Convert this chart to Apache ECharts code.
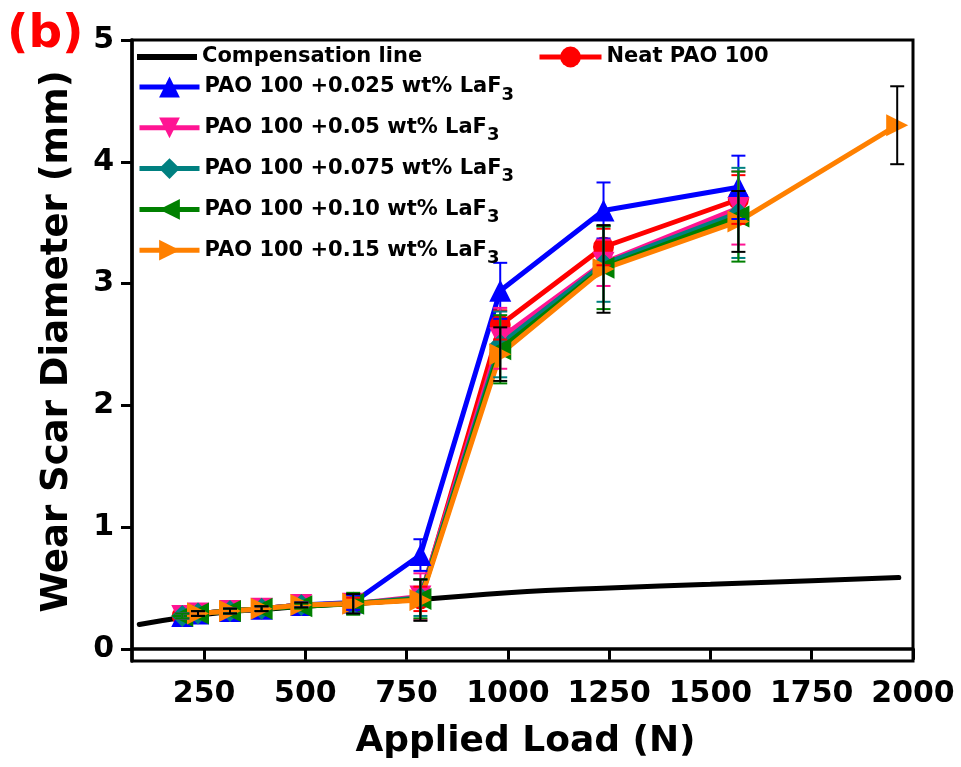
<!DOCTYPE html>
<html>
<head>
<meta charset="utf-8">
<script src="https://cdn.jsdelivr.net/npm/echarts@6/dist/echarts.min.js"></script>
<style>html,body{margin:0;padding:0;background:#fff;}#c{width:961px;height:767px;}</style>
</head>
<body>
<div id="c"></div>
<script>
// ---- data ----
const xTicks = [250, 500, 750, 1000, 1250, 1500, 1750, 2000];
const yTicks = [0, 1, 2, 3, 4, 5];
const compLoad = [90, 200, 300, 400, 500, 600, 800, 1000, 1250, 1500, 1750, 1965];
const compD = [0.20, 0.26, 0.30, 0.325, 0.35, 0.37, 0.41, 0.46, 0.50, 0.53, 0.56, 0.585];
const loads = [196, 235, 314, 392, 490, 618, 784, 981, 1236, 1569];
const loadsOrange = [235, 314, 392, 490, 618, 784, 981, 1236, 1569, 1961];
const neat = [0.27, 0.29, 0.31, 0.33, 0.36, 0.37, 0.41, 2.66, 3.30, 3.69];
const neatErr = [0.02, 0.02, 0.02, 0.02, 0.02, 0.05, 0.10, 0.12, 0.15, 0.20];
const w025 = [0.27, 0.29, 0.31, 0.33, 0.36, 0.38, 0.77, 2.94, 3.60, 3.79];
const w025Err = [0.02, 0.02, 0.02, 0.02, 0.02, 0.06, 0.13, 0.23, 0.23, 0.26];
const w05 = [0.27, 0.29, 0.31, 0.33, 0.36, 0.37, 0.43, 2.55, 3.17, 3.62];
const w05Err = [0.02, 0.02, 0.02, 0.02, 0.02, 0.08, 0.19, 0.25, 0.19, 0.30];
const w075 = [0.27, 0.29, 0.31, 0.33, 0.36, 0.37, 0.42, 2.50, 3.16, 3.58];
const w075Err = [0.02, 0.02, 0.02, 0.02, 0.02, 0.08, 0.15, 0.27, 0.31, 0.37];
const w10 = [0.27, 0.29, 0.31, 0.33, 0.35, 0.37, 0.41, 2.46, 3.13, 3.55];
const w10Err = [0.02, 0.02, 0.02, 0.02, 0.02, 0.09, 0.16, 0.28, 0.34, 0.37];
const w15 = [0.29, 0.31, 0.33, 0.36, 0.37, 0.40, 2.42, 3.12, 3.51, 4.30];
const w15Err = [0.02, 0.02, 0.02, 0.02, 0.08, 0.17, 0.22, 0.36, 0.25, 0.32];

const names = ['Compensation line', 'Neat PAO 100', 'PAO 100 +0.025 wt% LaF3', 'PAO 100 +0.05 wt% LaF3',
  'PAO 100 +0.075 wt% LaF3', 'PAO 100 +0.10 wt% LaF3', 'PAO 100 +0.15 wt% LaF3'];

const FONT = 'DejaVu Sans';
const chart = echarts.init(document.getElementById('c'));

function pairs(xs, ys) { return xs.map((x, i) => [x, ys[i]]); }

function lineSeries(name, xs, ys, color, symbol, rot, size, z) {
  return {
    name, type: 'line', data: pairs(xs, ys), symbol, symbolRotate: rot, symbolSize: size,
    showAllSymbol: true, lineStyle: { color, width: 5 }, itemStyle: { color }, z, clip: false
  };
}

function errSeries(xs, ys, es, color, z) {
  return {
    type: 'custom', silent: true, z, clip: false,
    data: xs.map((x, i) => [x, ys[i] - es[i], ys[i] + es[i]]),
    encode: { x: 0, y: [1, 2] },
    renderItem(params, api) {
      const x = api.value(0), lo = api.value(1), hi = api.value(2);
      const p1 = api.coord([x, lo]), p2 = api.coord([x, hi]);
      const w = 7, st = { stroke: color, lineWidth: 2 };
      return {
        type: 'group', children: [
          { type: 'line', shape: { x1: p1[0], y1: p1[1], x2: p2[0], y2: p2[1] }, style: st },
          { type: 'line', shape: { x1: p1[0] - w, y1: p1[1], x2: p1[0] + w, y2: p1[1] }, style: st },
          { type: 'line', shape: { x1: p2[0] - w, y1: p2[1], x2: p2[0] + w, y2: p2[1] }, style: st }
        ]
      };
    }
  };
}

function fmt(n) { return n.replace(/LaF3$/, 'LaF{sub|3}'); }
const legendText = {
  fontFamily: FONT, fontWeight: 'bold', fontSize: 21, color: '#000', lineHeight: 34,
  rich: { sub: { fontFamily: FONT, fontWeight: 'bold', fontSize: 18, lineHeight: 17, verticalAlign: 'bottom', color: '#000' } }
};

const option = {
  animation: false,
  backgroundColor: '#fff',
  grid: { left: 132, right: 48, top: 40, bottom: 106, show: true, borderColor: '#000', borderWidth: 3, backgroundColor: 'transparent' },
  xAxis: {
    type: 'value', min: 72, max: 2000,
    name: 'Applied Load (N)', nameLocation: 'middle', nameGap: 63,
    nameTextStyle: { fontFamily: FONT, fontWeight: 'bold', fontSize: 36, color: '#000', padding: [0, 0, 0, 6] },
    axisLine: { lineStyle: { color: '#000', width: 3.5 } },
    axisTick: { show: true, length: 11, customValues: xTicks, lineStyle: { color: '#000', width: 3 } },
    axisLabel: { customValues: xTicks, margin: 18, fontFamily: FONT, fontWeight: 'bold', fontSize: 30, color: '#000',
      formatter: v => String(v) },
    splitLine: { show: false }
  },
  yAxis: {
    type: 'value', min: -0.1, max: 5,
    name: 'Wear Scar Diameter (mm)', nameLocation: 'middle', nameGap: 56,
    nameTextStyle: { fontFamily: FONT, fontWeight: 'bold', fontSize: 37, color: '#000', padding: [0, 0, 0, 18] },
    axisLine: { lineStyle: { color: '#000', width: 3.5 } },
    axisTick: { show: true, length: 11, customValues: yTicks, lineStyle: { color: '#000', width: 3 } },
    axisLabel: { customValues: yTicks, margin: 18, fontFamily: FONT, fontWeight: 'bold', fontSize: 30, color: '#000',
      formatter: v => String(v) },
    splitLine: { show: false }
  },
  legend: [
    { data: [{ name: names[0], icon: 'rect' }], left: 137, top: 40, itemWidth: 60, itemHeight: 6, textStyle: legendText, padding: 0 },
    { data: [names[1]], left: 537, top: 40, itemWidth: 62, itemHeight: 26, textStyle: legendText, padding: 0,
      lineStyle: { width: 5 } },
    { data: names.slice(2), orient: 'vertical', left: 137, top: 70, itemWidth: 60, itemHeight: 26, itemGap: 6.8,
      textStyle: legendText, formatter: fmt, padding: 0, lineStyle: { width: 5 } }
  ],
  graphic: [
    { type: 'text', left: 7, top: 11, style: { text: '(b)', fontFamily: FONT, fontWeight: 'bold', fontSize: 47, fill: '#ff0000' } }
  ],
  series: [
    { name: names[0], type: 'line', data: pairs(compLoad, compD), smooth: true, symbol: 'none',
      lineStyle: { color: '#000', width: 5, cap: 'round' }, itemStyle: { color: '#000' }, z: 1 },
    lineSeries(names[1], loads, neat, '#ff0000', 'circle', 0, 21, 2),
    lineSeries(names[2], loads, w025, '#0000ff', 'triangle', 0, 22, 2),
    lineSeries(names[3], loads, w05, '#ff1493', 'triangle', 180, 22, 2),
    lineSeries(names[4], loads, w075, '#008080', 'diamond', 0, 22, 2),
    lineSeries(names[5], loads, w10, '#008000', 'triangle', 90, 22, 2),
    lineSeries(names[6], loadsOrange, w15, '#ff8000', 'triangle', -90, 22, 2),
    errSeries(loads, neat, neatErr, '#ff0000', 3),
    errSeries(loads, w025, w025Err, '#0000ff', 3),
    errSeries(loads, w05, w05Err, '#ff1493', 3),
    errSeries(loads, w075, w075Err, '#008080', 3),
    errSeries(loads, w10, w10Err, '#008000', 3),
    errSeries(loadsOrange, w15, w15Err, '#000000', 3)
  ]
};
chart.setOption(option);
</script>
</body>
</html>
